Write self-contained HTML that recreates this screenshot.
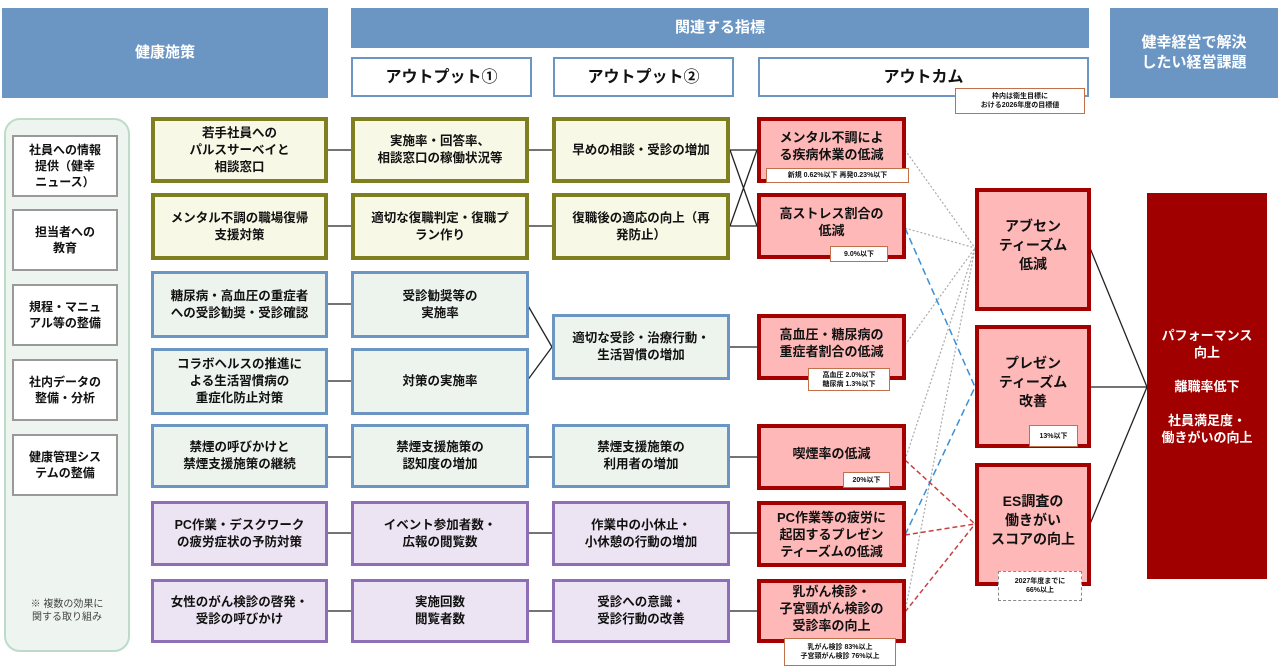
<!DOCTYPE html>
<html><head><meta charset="utf-8"><style>
body{margin:0;width:1280px;height:668px;background:#fff;position:relative;overflow:hidden;font-family:"Liberation Sans","Noto Sans CJK JP",sans-serif;}
.b{position:absolute;box-sizing:border-box;display:flex;align-items:center;justify-content:center;text-align:center;font-size:12.5px;line-height:17px;color:#111;font-weight:bold;}
.hd{background:#6b96c4;color:#fff;font-size:15px;line-height:20px;}
.sh{border:2px solid #6b96c4;background:#fff;font-size:16px;}
.ol{border:4px solid #7f7f1f;background:#f8f8e6;}
.bl{border:3px solid #6b96c4;background:#edf4ee;}
.pu{border:3px solid #8e6fb5;background:#ece4f2;}
.rd{border:4px solid #a50000;background:#ffb8b8;font-size:13px;line-height:17px;padding-bottom:8px;}
.lf{border:2px solid #999;background:#fff;font-size:12px;line-height:16px;}
.nt{border:1.5px solid #c0704a;background:#fff;font-size:7px;line-height:9px;padding:1px 3px;}
</style></head><body>
<svg width="1280" height="668" style="position:absolute;left:0;top:0">
<g stroke="#222" stroke-width="1.3" fill="none">
<path d="M327 150H351M327 226H351M327 304H351M327 381H351M327 457H351M327 533H351M327 611H351"/>
<path d="M529 150H553M529 226H553M529 457H553M529 533H553M529 611H553"/>
<path d="M527 304L552 347L527 381"/>
<path d="M730 150H757M730 226H757M730 150L757 226M730 226L757 150M730 347H757M730 457H757M730 533H757M730 611H757"/>
<path d="M1090 248L1147 387L1090 387M1090 524L1147 387"/>
</g>
<g stroke="#aaa" stroke-width="1.2" stroke-dasharray="2 2" fill="none">
<path d="M905 150L975 248M905 228L975 248M905 345L975 248M905 460L975 248M905 612L975 248"/>
</g>
<g stroke="#3a8fd6" stroke-width="1.5" stroke-dasharray="7 4" fill="none">
<path d="M905 228L975 387M905 535L975 387"/>
</g>
<g stroke="#c84040" stroke-width="1.5" stroke-dasharray="5 3" fill="none">
<path d="M905 460L975 524M905 535L975 524M905 612L975 524"/>
</g>
</svg>
<div class="b hd" style="left:2px;top:8px;width:326px;height:90px">健康施策</div>
<div class="b hd" style="left:351px;top:8px;width:738px;height:40px">関連する指標</div>
<div class="b hd" style="left:1110px;top:8px;width:168px;height:90px">健幸経営で解決<br>したい経営課題</div>
<div class="b sh" style="left:351px;top:57px;width:181px;height:40px">アウトプット①</div>
<div class="b sh" style="left:553px;top:57px;width:181px;height:40px">アウトプット②</div>
<div class="b sh" style="left:758px;top:57px;width:331px;height:40px">アウトカム</div>
<div class="b nt" style="left:955px;top:88px;width:130px;height:26px">枠内は衛生目標に<br>おける2026年度の目標値</div>
<div style="position:absolute;left:4px;top:118px;width:126px;height:534px;box-sizing:border-box;border:2px solid #bcdcc9;border-radius:16px;background:#eef5f0"></div>
<div class="b lf" style="left:12px;top:135px;width:106px;height:62px">社員への情報<br>提供（健幸<br>ニュース）</div>
<div class="b lf" style="left:12px;top:209px;width:106px;height:62px">担当者への<br>教育</div>
<div class="b lf" style="left:12px;top:284px;width:106px;height:62px">規程・マニュ<br>アル等の整備</div>
<div class="b lf" style="left:12px;top:359px;width:106px;height:62px">社内データの<br>整備・分析</div>
<div class="b lf" style="left:12px;top:434px;width:106px;height:62px">健康管理シス<br>テムの整備</div>
<div class="b" style="left:10px;top:598px;width:114px;height:26px;font-size:10px;line-height:13px;font-weight:normal;color:#444">※ 複数の効果に<br>関する取り組み</div>

<div class="b ol" style="left:151px;top:117px;width:177px;height:66px">若手社員への<br>パルスサーベイと<br>相談窓口</div>
<div class="b ol" style="left:151px;top:193px;width:177px;height:67px">メンタル不調の職場復帰<br>支援対策</div>
<div class="b bl" style="left:151px;top:271px;width:177px;height:67px">糖尿病・高血圧の重症者<br>への受診勧奨・受診確認</div>
<div class="b bl" style="left:151px;top:348px;width:177px;height:67px">コラボヘルスの推進に<br>よる生活習慣病の<br>重症化防止対策</div>
<div class="b bl" style="left:151px;top:424px;width:177px;height:64px">禁煙の呼びかけと<br>禁煙支援施策の継続</div>
<div class="b pu" style="left:151px;top:501px;width:177px;height:65px">PC作業・デスクワーク<br>の疲労症状の予防対策</div>
<div class="b pu" style="left:151px;top:579px;width:177px;height:64px">女性のがん検診の啓発・<br>受診の呼びかけ</div>

<div class="b ol" style="left:351px;top:117px;width:178px;height:66px">実施率・回答率、<br>相談窓口の稼働状況等</div>
<div class="b ol" style="left:351px;top:193px;width:178px;height:67px">適切な復職判定・復職プ<br>ラン作り</div>
<div class="b bl" style="left:351px;top:271px;width:178px;height:67px">受診勧奨等の<br>実施率</div>
<div class="b bl" style="left:351px;top:348px;width:178px;height:67px">対策の実施率</div>
<div class="b bl" style="left:351px;top:424px;width:178px;height:64px">禁煙支援施策の<br>認知度の増加</div>
<div class="b pu" style="left:351px;top:501px;width:178px;height:65px">イベント参加者数・<br>広報の閲覧数</div>
<div class="b pu" style="left:351px;top:579px;width:178px;height:64px">実施回数<br>閲覧者数</div>

<div class="b ol" style="left:552px;top:117px;width:178px;height:66px">早めの相談・受診の増加</div>
<div class="b ol" style="left:552px;top:193px;width:178px;height:67px">復職後の適応の向上（再<br>発防止）</div>
<div class="b bl" style="left:552px;top:314px;width:178px;height:66px">適切な受診・治療行動・<br>生活習慣の増加</div>
<div class="b bl" style="left:552px;top:424px;width:178px;height:64px">禁煙支援施策の<br>利用者の増加</div>
<div class="b pu" style="left:552px;top:501px;width:178px;height:65px">作業中の小休止・<br>小休憩の行動の増加</div>
<div class="b pu" style="left:552px;top:579px;width:178px;height:64px">受診への意識・<br>受診行動の改善</div>

<div class="b rd" style="left:757px;top:117px;width:149px;height:66px">メンタル不調によ<br>る疾病休業の低減</div>
<div class="b rd" style="left:757px;top:193px;width:149px;height:66px">高ストレス割合の<br>低減</div>
<div class="b rd" style="left:757px;top:314px;width:149px;height:66px">高血圧・糖尿病の<br>重症者割合の低減</div>
<div class="b rd" style="left:757px;top:424px;width:149px;height:66px">喫煙率の低減</div>
<div class="b rd" style="left:757px;top:501px;width:149px;height:66px;padding-bottom:0">PC作業等の疲労に<br>起因するプレゼン<br>ティーズムの低減</div>
<div class="b rd" style="left:757px;top:579px;width:149px;height:64px;padding-bottom:6px">乳がん検診・<br>子宮頸がん検診の<br>受診率の向上</div>
<div class="b nt" style="left:766px;top:168px;width:143px;height:15px">新規 0.62%以下 再発0.23%以下</div>
<div class="b nt" style="left:830px;top:246px;width:58px;height:16px">9.0%以下</div>
<div class="b nt" style="left:808px;top:368px;width:82px;height:23px">高血圧 2.0%以下<br>糖尿病 1.3%以下</div>
<div class="b nt" style="left:843px;top:472px;width:47px;height:16px">20%以下</div>
<div class="b nt" style="left:784px;top:638px;width:112px;height:28px">乳がん検診 83%以上<br>子宮頸がん検診 76%以上</div>

<div class="b rd" style="left:975px;top:188px;width:116px;height:123px;font-size:14px;line-height:19px">アブセン<br>ティーズム<br>低減</div>
<div class="b rd" style="left:975px;top:325px;width:116px;height:123px;font-size:14px;line-height:19px">プレゼン<br>ティーズム<br>改善</div>
<div class="b rd" style="left:975px;top:463px;width:116px;height:123px;font-size:14px;line-height:19px">ES調査の<br>働きがい<br>スコアの向上</div>
<div class="b nt" style="left:1029px;top:425px;width:49px;height:22px">13%以下</div>
<div class="b nt" style="left:998px;top:571px;width:84px;height:30px;border:1.5px dashed #888">2027年度までに<br>66%以上</div>

<div class="b" style="left:1147px;top:193px;width:120px;height:386px;background:#a00000;color:#fff;font-size:13px;line-height:17px">パフォーマンス<br>向上<br><br>離職率低下<br><br>社員満足度・<br>働きがいの向上</div>
</body></html>
